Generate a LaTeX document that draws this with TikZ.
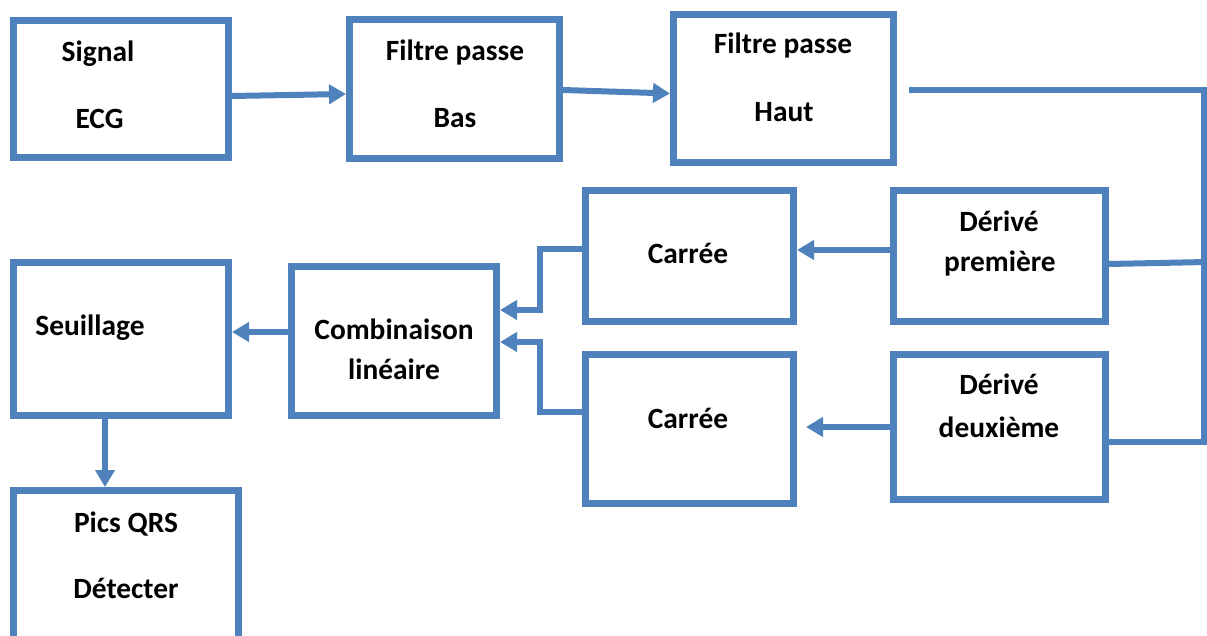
\documentclass[tikz,border=0pt]{standalone}
\usepackage{fontspec}
\setmainfont{Carlito}
\usetikzlibrary{arrows.meta}
\definecolor{bl}{RGB}{79,129,189}
\begin{document}
\begin{tikzpicture}[x=1pt,y=-1pt,
  box/.style={draw=bl,line width=7pt,rectangle,inner sep=0pt},
  conn/.style={draw=bl,line width=6pt},
  arr/.style={conn,-{Triangle[length=17pt,width=19pt]}},
  lbl/.style={anchor=base,inner sep=0pt,font=\fontsize{29.4}{31}\selectfont\bfseries}]
\useasboundingbox (0,0) rectangle (1207,636);
\clip (0,0) rectangle (1207,636);
% boxes
\node[box,minimum width=215pt,minimum height=137pt] (sig) at (121,89) {};
\node[box,minimum width=210pt,minimum height=139pt] (fpb) at (454.5,89) {};
\node[box,minimum width=220pt,minimum height=148pt] (fph) at (783.5,88.5) {};
\node[box,minimum width=212pt,minimum height=131pt] (d1) at (999.5,256) {};
\node[box,minimum width=212pt,minimum height=145pt] (d2) at (999.5,427) {};
\node[box,minimum width=208pt,minimum height=131pt] (c1) at (689.5,256) {};
\node[box,minimum width=208pt,minimum height=149pt] (c2) at (689.5,429) {};
\node[box,minimum width=215pt,minimum height=153pt] (seu) at (121,339) {};
\node[box,minimum width=205pt,minimum height=149pt] (comb) at (394,341) {};
\node[box,minimum width=225pt,minimum height=186pt] (pics) at (126,583.5) {};
% labels
\node[lbl] (t1) at (98,62) {Signal};
\node[lbl] (t2) at (99.5,129) {ECG};
\node[lbl] (t3) at (455,61) {Filtre passe};
\node[lbl] (t4) at (455,128) {Bas};
\node[lbl] (t5) at (783,54) {Filtre passe};
\node[lbl] (t6) at (784,122) {Haut};
\node[lbl] (t7) at (999,232) {Dérivé};
\node[lbl] (t8) at (1000,272) {première};
\node[lbl] (t9) at (999,394) {Dérivé};
\node[lbl] (t10) at (999,437) {deuxième};
\node[lbl] (t11) at (688,264) {Carrée};
\node[lbl] (t12) at (688,428) {Carrée};
\node[lbl] (t13) at (90,335) {Seuillage};
\node[lbl] (t14) at (394,339) {Combinaison};
\node[lbl] (t15) at (394,379) {linéaire};
\node[lbl] (t16) at (126,532) {Pics QRS};
\node[lbl] (t17) at (126,598) {Détecter};
% free-end coordinates on the right
\coordinate (fphout) at (909,90);
\coordinate (rtop) at (1204,90);
\coordinate (rmid) at (1207,262);
\coordinate (rbot) at (1207,442);
% connectors
\draw[arr] ([yshift=-7pt]sig.east) -- ([yshift=-5pt]fpb.west);
\draw[arr] ([yshift=-1pt]fpb.east) -- ([yshift=-5pt]fph.west);
\draw[conn] (fphout) -- ([xshift=3pt]rtop) ;
\draw[conn] (rtop) -- (rtop |- rbot);
\draw[conn] ([yshift=-8pt]d1.east) -- (rmid);
\draw[conn] ([yshift=-15pt]d2.east) -- (rbot);
\draw[arr] ([yshift=6pt]d1.west) -- ([yshift=6pt]c1.east);
\draw[arr] (d2.west) -- ([xshift=9pt,yshift=2pt]c2.east);
\draw[arr] ([yshift=7pt]c1.west) -- ++(-42pt,0) |- ([yshift=31pt]comb.east);
\draw[arr] ([xshift=6pt,yshift=17pt]c2.west) -- ++(-48pt,0) |- ([yshift=-1pt]comb.east);
\draw[arr] ([yshift=9pt]comb.west) -- ([yshift=7pt]seu.east);
\draw[arr] ([xshift=-16pt]seu.south) -- ([xshift=-21pt]pics.north);
\end{tikzpicture}
\end{document}
